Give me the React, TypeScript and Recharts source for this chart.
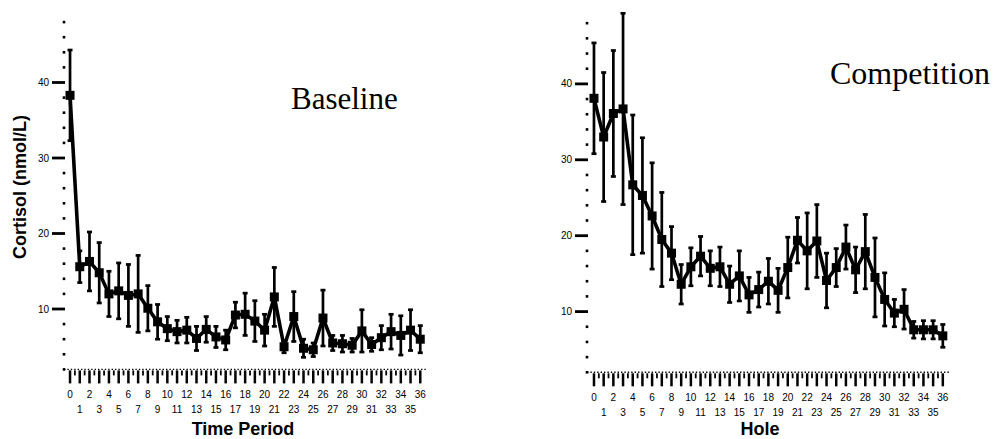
import React from 'react';
import { LineChart, Line, XAxis, YAxis, ErrorBar } from 'recharts';

const periods = [0, 1, 2, 3, 4, 5, 6, 7, 8, 9, 10, 11, 12, 13, 14, 15, 16, 17, 18, 19, 20, 21, 22, 23, 24, 25, 26, 27, 28, 29, 30, 31, 32, 33, 34, 35, 36];

const baselineMean = [38.3, 15.6, 16.3, 14.8, 12.0, 12.4, 11.8, 12.0, 10.1, 8.3, 7.4, 7.0, 7.2, 6.1, 7.3, 6.3, 5.9, 9.2, 9.3, 8.4, 7.2, 11.6, 5.0, 9.0, 4.8, 4.6, 8.8, 5.5, 5.4, 5.2, 7.1, 5.3, 6.2, 7.0, 6.5, 7.2, 6.0];
const baselineErr = [6.0, 2.1, 3.9, 4.0, 3.0, 3.7, 4.1, 5.1, 3.0, 2.3, 1.6, 1.5, 1.7, 1.6, 1.7, 1.4, 1.3, 1.7, 2.8, 2.7, 2.1, 3.9, 0.8, 3.3, 1.2, 0.9, 3.7, 1.0, 1.1, 0.9, 2.8, 0.9, 1.6, 2.3, 2.6, 2.7, 1.8];

const competitionMean = [38.1, 33.0, 36.1, 36.7, 26.7, 25.3, 22.6, 19.5, 17.7, 13.6, 15.9, 17.3, 15.7, 15.9, 13.6, 14.7, 12.2, 12.9, 14.0, 12.8, 15.8, 19.4, 18.0, 19.3, 14.1, 15.8, 18.5, 15.5, 17.9, 14.5, 11.6, 9.8, 10.3, 7.6, 7.6, 7.6, 6.8];
const competitionErr = [7.3, 8.5, 8.3, 12.6, 9.2, 7.6, 7.0, 6.2, 3.5, 2.6, 2.5, 2.6, 2.3, 2.6, 2.4, 3.3, 2.3, 2.3, 3.0, 2.9, 4.0, 3.0, 5.0, 4.8, 3.6, 2.5, 2.9, 3.0, 4.9, 5.2, 3.5, 1.8, 2.6, 1.1, 1.2, 1.2, 1.5];

const yTicks = [2, 4, 6, 8, 10, 12, 14, 16, 18, 20, 22, 24, 26, 28, 30, 32, 34, 36, 38, 40, 42, 44, 46, 48];
const yLabelTicks = [10, 20, 30, 40];
const xTicks: number[] = [];
periods.forEach((p) => {
  xTicks.push(p);
  if (p < 36) xTicks.push(p + 0.5);
});

const baselineData = periods.map((p, i) => ({ x: p, y: baselineMean[i], err: baselineErr[i] }));
const competitionData = periods.map((p, i) => ({ x: p, y: competitionMean[i], err: competitionErr[i] }));

const SANS = '"Liberation Sans", Arial, Helvetica, sans-serif';
const SERIF = '"Liberation Serif", "Times New Roman", serif';

const YTick = (props: any) => {
  const { x, y, payload } = props;
  const v = payload.value;
  if (yLabelTicks.includes(v)) {
    return (
      <g>
        <line x1={x - 12} x2={x + 1} y1={y} y2={y} stroke="#000" strokeWidth={2.8} />
        <text x={x - 15} y={y} dy="0.36em" textAnchor="end" fontSize={10} fontFamily={SANS} fill="#000">
          {v}
        </text>
      </g>
    );
  }
  return <rect x={x - 1.3} y={y - 1.3} width={2.6} height={2.6} fill="#000" />;
};

const XTick = (props: any) => {
  const { x, y, payload } = props;
  const v = payload.value;
  if (!Number.isInteger(v)) {
    return <line x1={x} x2={x} y1={y + 1} y2={y + 6} stroke="#000" strokeWidth={1.8} />;
  }
  const even = v % 2 === 0;
  return (
    <g>
      <line x1={x} x2={x} y1={y + 1} y2={y + 14} stroke="#000" strokeWidth={2.5} />
      <text x={x} y={y + (even ? 25 : 40)} dy="0.36em" textAnchor="middle" fontSize={10} fontFamily={SANS} fill="#000">
        {v}
      </text>
    </g>
  );
};

const SquareDot = (props: any) => {
  const { cx, cy, index } = props;
  if (cx == null || cy == null) return <g key={index} />;
  return <rect key={index} x={cx - 4.5} y={cy - 4.5} width={9} height={9} fill="#000" />;
};

type PanelProps = {
  data: { x: number; y: number; err: number }[];
  left: number;
  width: number;
  marginTop: number;
  marginRight: number;
  yAxisWidth: number;
  xAxisHeight: number;
  xDomain: [number, number];
};

const Panel = ({ data, left, width, marginTop, marginRight, yAxisWidth, xAxisHeight, xDomain }: PanelProps) => (
  <div style={{ position: 'absolute', left, top: 0, width, height: 439 }}>
    <LineChart width={width} height={439} data={data} margin={{ top: marginTop, right: marginRight, bottom: 0, left: 0 }}>
      <XAxis
        dataKey="x"
        type="number"
        domain={xDomain}
        ticks={xTicks}
        interval={0}
        height={xAxisHeight}
        tickSize={0}
        tickMargin={0}
        tickLine={false}
        axisLine={{ stroke: '#000', strokeWidth: 1.4, strokeDasharray: '1.4 2' }}
        tick={<XTick />}
      />
      <YAxis
        type="number"
        domain={[2, 50]}
        ticks={yTicks}
        interval={0}
        width={yAxisWidth}
        tickSize={0}
        tickMargin={0}
        tickLine={false}
        axisLine={false}
        tick={<YTick />}
      />
      <Line
        type="linear"
        dataKey="y"
        stroke="#000"
        strokeWidth={3.6}
        dot={SquareDot}
        activeDot={false}
        isAnimationActive={false}
      >
        <ErrorBar dataKey="err" width={2.5} strokeWidth={2.7} stroke="#000" direction="y" isAnimationActive={false} />
      </Line>
    </LineChart>
  </div>
);

export default function App() {
  return (
    <div style={{ position: 'absolute', left: 0, top: 0, width: 998, height: 439, background: '#fff', overflow: 'hidden' }}>
      <Panel
        data={baselineData}
        left={0}
        width={499}
        marginTop={7}
        marginRight={73}
        yAxisWidth={64}
        xAxisHeight={69.6}
        xDomain={[-0.62, 36.59]}
      />
      <Panel
        data={competitionData}
        left={499}
        width={499}
        marginTop={8}
        marginRight={48.4}
        yAxisWidth={88}
        xAxisHeight={66.7}
        xDomain={[-0.72, 36.7]}
      />
      <svg width={998} height={439} style={{ position: 'absolute', left: 0, top: 0, pointerEvents: 'none' }}>
        <text transform="translate(25.5,187) rotate(-90)" textAnchor="middle" fontSize={18} fontWeight="bold" fontFamily={SANS} fill="#000">
          Cortisol (nmol/L)
        </text>
        <text x={243} y={435} textAnchor="middle" fontSize={18} fontWeight="bold" fontFamily={SANS} fill="#000">
          Time Period
        </text>
        <text x={760} y={435} textAnchor="middle" fontSize={18} fontWeight="bold" fontFamily={SANS} fill="#000">
          Hole
        </text>
        <text x={291} y={109} fontSize={31} fontFamily={SERIF} fill="#000">
          Baseline
        </text>
        <text x={830} y={84} fontSize={32} fontFamily={SERIF} fill="#000">
          Competition
        </text>
      </svg>
    </div>
  );
}
